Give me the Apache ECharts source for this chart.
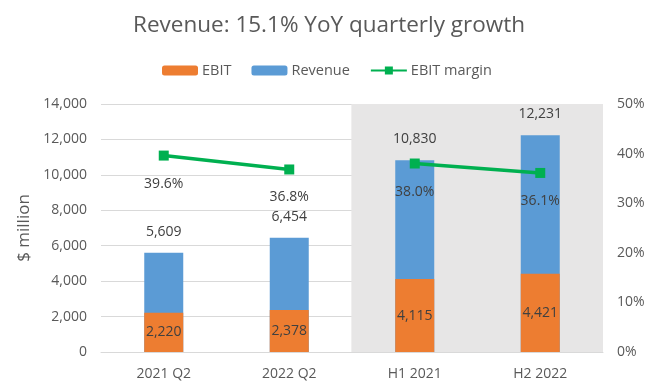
<!DOCTYPE html>
<html><head><meta charset="utf-8">
<script src="https://cdn.jsdelivr.net/npm/echarts@6/dist/echarts.min.js"></script>
<style>html,body{margin:0;padding:0;background:#fff}#c{width:658px;height:392px}</style>
</head><body><div id="c"></div>
<script>
const categories = ['2021 Q2', '2022 Q2', 'H1 2021', 'H2 2022'];
const ebit = [2220, 2378, 4115, 4421];
const revenue = [5609, 6454, 10830, 12231];
const ebitMargin = [39.6, 36.8, 38.0, 36.1];
const shaded = [null, null, 14000, 14000];

// the margin line is drawn as two separate segments (quarters / halves)
const marginQ = ebitMargin.map((v, i) => i < 2 ? v : null);
const marginH = ebitMargin.map((v, i) => i >= 2 ? v : null);

const FONT = 'Open Sans';
const TXT = '#595959';
const LBL = '#404040';
const lineSeries = (data) => ({
  name: 'EBIT margin', type: 'line', yAxisIndex: 1, data: data, z: 5, connectNulls: false,
  symbol: 'rect', symbolSize: 10, lineStyle: { width: 3.5, color: '#00b050' },
  itemStyle: { color: '#00b050' },
  label: { show: true, position: 'bottom', distance: 16, color: LBL, fontSize: 14, fontFamily: FONT,
    formatter: p => p.value == null ? '' : p.value.toFixed(1) + '%' }
});
const chart = echarts.init(document.getElementById('c'));
chart.setOption({
  animation: false,
  textStyle: { fontFamily: FONT },
  title: {
    text: 'Revenue: 15.1% YoY quarterly growth', left: 'center', top: 9,
    textStyle: { fontFamily: FONT, fontSize: 22.5, fontWeight: 'normal', color: TXT }
  },
  legend: {
    data: ['EBIT', 'Revenue', 'EBIT margin'], top: 58, left: 157,
    itemWidth: 36, itemHeight: 10, itemGap: 20,
    textStyle: { fontFamily: FONT, fontSize: 14.5, color: TXT, padding: [0, 0, 0, -1] }
  },
  grid: { left: 101, right: 55, top: 104, bottom: 40 },
  xAxis: [{
    type: 'category', data: categories,
    axisLine: { lineStyle: { color: '#d9d9d9' } }, axisTick: { show: false },
    axisLabel: { color: TXT, fontSize: 14, margin: 15, fontFamily: FONT }
  }, {
    type: 'category', data: categories, show: false
  }],
  yAxis: [{
    type: 'value', min: 0, max: 14000, interval: 2000,
    name: '$ million', nameLocation: 'middle', nameGap: 68, nameRotate: 90,
    nameTextStyle: { color: TXT, fontSize: 17, fontFamily: FONT },
    axisLabel: { color: TXT, fontSize: 14, margin: 14, fontFamily: FONT,
      formatter: v => v.toLocaleString('en-US') },
    splitLine: { lineStyle: { color: '#d9d9d9' } }
  }, {
    type: 'value', min: 0, max: 50, interval: 10, position: 'right',
    axisLabel: { color: TXT, fontSize: 14, margin: 14, fontFamily: FONT, formatter: '{value}%' },
    splitLine: { show: false }
  }],
  series: [{
    name: 'bg', type: 'bar', xAxisIndex: 1, yAxisIndex: 0, data: shaded,
    barWidth: '101%', barCategoryGap: '0%', itemStyle: { color: '#e7e6e6' }, silent: true, z: 0
  }, {
    name: 'Revenue', type: 'bar', data: revenue, barWidth: 39, barGap: '-100%', z: 2,
    itemStyle: { color: '#5b9bd5' },
    label: { show: true, position: 'top', distance: 14, color: LBL, fontSize: 14, fontFamily: FONT,
      formatter: p => p.value.toLocaleString('en-US') }
  }, {
    name: 'EBIT', type: 'bar', data: ebit, barWidth: 39, barGap: '-100%', z: 3,
    itemStyle: { color: '#ed7d31' },
    label: { show: true, position: 'inside', color: LBL, fontSize: 14, fontFamily: FONT,
      formatter: p => p.value.toLocaleString('en-US') }
  }, lineSeries(marginQ), lineSeries(marginH)]
});
</script></body></html>
